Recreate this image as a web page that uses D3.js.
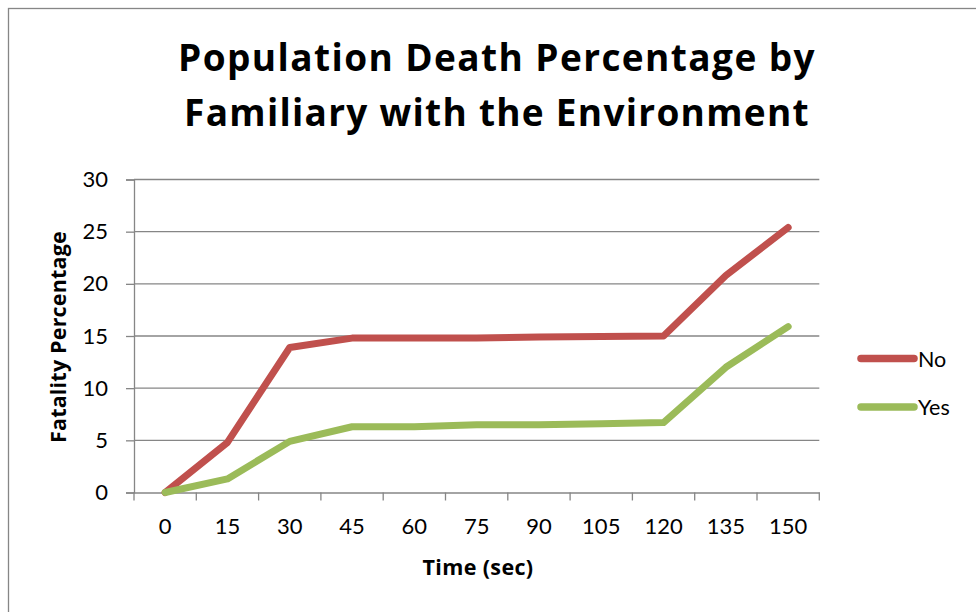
<!DOCTYPE html>
<html>
<head>
<meta charset="utf-8">
<script src="https://cdn.jsdelivr.net/npm/d3@7"></script>
<style>
  html, body { margin: 0; padding: 0; background: #fff; }
  svg { display: block; }
</style>
</head>
<body>
<svg id="chart" width="976" height="612"></svg>
<script>
// ---- data ----
const categories = ["0", "15", "30", "45", "60", "75", "90", "105", "120", "135", "150"];
const seriesNames = ["No", "Yes"];
const noValues  = [0, 4.8, 13.9, 14.8, 14.8, 14.8, 14.9, 14.95, 15.0, 20.8, 25.4];
const yesValues = [0, 1.3, 4.9, 6.3, 6.3, 6.5, 6.5, 6.6, 6.7, 12.0, 15.9];
const yTicks = [0, 5, 10, 15, 20, 25, 30];
const titleLines = ["Population Death Percentage by", "Familiary with the Environment"];
const xTitle = "Time (sec)";
const yTitle = "Fatality Percentage";

const colors = ["#C0504D", "#9BBB59"];
const gridColor = "#868686";
const boldFont = "'Open Sans', Lato, sans-serif";
const regFont = "Lato, 'Open Sans', sans-serif";

const svg = d3.select("#chart");

// adjust letter-spacing so text reaches a target width (Calibri substitute)
function fitWidth(sel, target) {
  sel.each(function () {
    const n = this.textContent.length;
    const w = this.getComputedTextLength();
    if (w > 0 && n > 1) {
      const ls = Math.max(-1.5, Math.min(3, (target - w) / n));
      d3.select(this).style("letter-spacing", ls.toFixed(2) + "px");
    }
  });
}

// outer border
svg.append("rect")
  .attr("x", 8.5).attr("y", 8.5)
  .attr("width", 1000).attr("height", 700)
  .attr("fill", "none").attr("stroke", gridColor).attr("stroke-width", 1.3);

const plot = { left: 134, right: 819.3, top: 179.5, bottom: 492.5 };

const x = d3.scaleBand().domain(categories).range([plot.left, plot.right]).padding(0);
const y = d3.scaleLinear().domain([0, 30]).range([plot.bottom, plot.top]);

// gridlines
svg.append("g").selectAll("line")
  .data(yTicks.filter(d => d > 0))
  .join("line")
  .attr("x1", plot.left).attr("x2", plot.right)
  .attr("y1", d => y(d)).attr("y2", d => y(d))
  .attr("stroke", gridColor).attr("stroke-width", 1.3);

// y axis
const yAxis = svg.append("g")
  .attr("transform", `translate(${plot.left},0)`)
  .call(d3.axisLeft(y).tickValues(yTicks).tickSize(8).tickPadding(18).tickFormat(d3.format("d")));
yAxis.select(".domain").attr("stroke", gridColor).attr("stroke-width", 1.3);
yAxis.selectAll(".tick line").attr("stroke", gridColor).attr("stroke-width", 1.3);
yAxis.selectAll(".tick text")
  .style("font-family", regFont).style("font-size", "22px").attr("fill", "#000");

// x axis (labels)
const xAxis = svg.append("g")
  .attr("transform", `translate(0,${plot.bottom})`)
  .call(d3.axisBottom(x).tickSize(0).tickPadding(26));
xAxis.select(".domain").attr("stroke", gridColor).attr("stroke-width", 1.3);
xAxis.selectAll(".tick text")
  .style("font-family", regFont).style("font-size", "22px").attr("fill", "#000");

// x tick marks at category boundaries
const boundaries = categories.map(c => x(c)).concat([x(categories[categories.length - 1]) + x.bandwidth()]);
svg.append("g").selectAll("line")
  .data(boundaries)
  .join("line")
  .attr("x1", d => d).attr("x2", d => d)
  .attr("y1", plot.bottom).attr("y2", plot.bottom + 8)
  .attr("stroke", gridColor).attr("stroke-width", 1.3);

// lines
const line = d3.line()
  .x((d, i) => x(categories[i]) + x.bandwidth() / 2)
  .y(d => y(d));

[noValues, yesValues].forEach((vals, k) => {
  svg.append("path")
    .datum(vals)
    .attr("d", line)
    .attr("fill", "none")
    .attr("stroke", colors[k])
    .attr("stroke-width", 7)
    .attr("stroke-linejoin", "round")
    .attr("stroke-linecap", "round");
});

// title
const titleWidths = [638, 626];
svg.append("g").selectAll("text")
  .data(titleLines)
  .join("text")
  .attr("x", 497)
  .attr("y", (d, i) => 70.5 + i * 55.5)
  .attr("text-anchor", "middle")
  .style("font-family", boldFont)
  .style("font-weight", "bold")
  .style("font-size", "37px")
  .text(d => d)
  .each(function (d, i) { fitWidth(d3.select(this), titleWidths[i]); });

// axis titles
svg.append("text")
  .attr("x", 478).attr("y", 575)
  .attr("text-anchor", "middle")
  .style("font-family", boldFont)
  .style("font-weight", "bold").style("font-size", "21.5px")
  .text(xTitle)
  .call(fitWidth, 111);

svg.append("text")
  .attr("transform", "translate(66,337) rotate(-90)")
  .attr("text-anchor", "middle")
  .style("font-family", boldFont)
  .style("font-weight", "bold").style("font-size", "21.5px")
  .text(yTitle)
  .call(fitWidth, 212);

// legend
const legend = svg.append("g");
seriesNames.forEach((name, k) => {
  const ly = 358.5 + k * 48.5;
  legend.append("line")
    .attr("x1", 861).attr("x2", 914)
    .attr("y1", ly).attr("y2", ly)
    .attr("stroke", colors[k]).attr("stroke-width", 7.5)
    .attr("stroke-linecap", "round");
  legend.append("text")
    .attr("x", 918).attr("y", ly + 8)
    .style("font-family", regFont)
    .style("font-size", "21.5px")
    .text(name);
});
</script>
</body>
</html>
